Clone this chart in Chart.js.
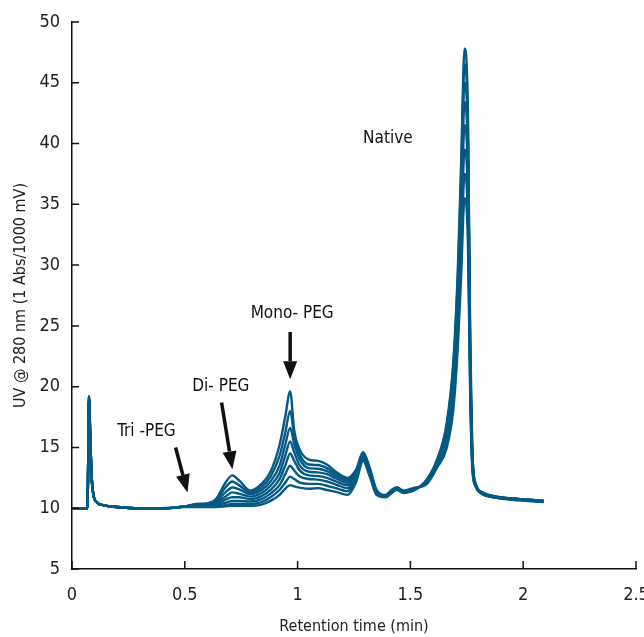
<!DOCTYPE html>
<html>
<head>
<meta charset="utf-8">
<script src="https://cdn.jsdelivr.net/npm/chart.js@4.4.1/dist/chart.umd.min.js"></script>
<style>
  html, body { margin: 0; padding: 0; background: #fff; }
  #wrap { width: 644px; height: 637px; }
</style>
</head>
<body>
<div id="wrap"><canvas id="chromChart" width="644" height="637"></canvas></div>
<script>
// Retention time grid (min), shared by every overlaid run
const times = [0, 0.068, 0.071, 0.075, 0.081, 0.087, 0.095, 0.11, 0.14, 0.2, 0.3, 0.4, 0.46, 0.5,
  0.55, 0.6, 0.64, 0.68, 0.71, 0.74, 0.79, 0.84, 0.88, 0.92, 0.945, 0.967, 0.985,
  1.01, 1.05, 1.09, 1.13, 1.17, 1.22, 1.26, 1.29, 1.32, 1.35, 1.39, 1.42, 1.44, 1.47, 1.52,
  1.57, 1.62, 1.66, 1.69, 1.71, 1.725, 1.74, 1.755, 1.765, 1.775,
  1.79, 1.82, 1.87, 1.95, 2.02, 2.09]

// UV traces (lowest Mono-PEG first)
const run1 = [10.0, 10.0, 12.5, 19.2, 15.8, 12.6, 11.1, 10.5, 10.25, 10.1, 10.0, 10.0, 10.05, 10.1,
  10.1, 10.1, 10.1, 10.15, 10.2, 10.2, 10.2, 10.3, 10.6, 11.1, 11.6, 11.9, 11.8,
  11.7, 11.6, 11.65, 11.5, 11.35, 11.1, 12.2, 13.9, 12.6, 11.1, 10.9, 11.3, 11.5, 11.25, 11.5,
  12.3, 14.1, 16.9, 22.0, 29.5, 38.5, 47.8, 42.5, 24.0, 14.5,
  12.0, 11.3, 11.0, 10.8, 10.7, 10.6]
const run2 = [10.0, 10.0, 12.5, 19.1, 15.7, 12.6, 11.1, 10.5, 10.25, 10.1, 10.0, 10.0, 10.05, 10.15,
  10.15, 10.15, 10.15, 10.25, 10.35, 10.35, 10.35, 10.5, 10.9, 11.5, 12.1, 12.6, 12.4,
  12.1, 12.0, 12.0, 11.85, 11.65, 11.4, 12.4, 14.0, 12.75, 11.2, 10.95, 11.35, 11.55, 11.3, 11.55,
  12.25, 14.0, 16.7, 21.6, 28.8, 37.5, 46.5, 41.4, 23.5, 14.4,
  11.95, 11.3, 11.0, 10.8, 10.7, 10.6]
const run3 = [10.0, 10.0, 12.5, 19.2, 15.8, 12.6, 11.1, 10.5, 10.25, 10.1, 10.0, 10.0, 10.05, 10.15,
  10.2, 10.2, 10.25, 10.45, 10.6, 10.6, 10.55, 10.75, 11.2, 11.9, 12.8, 13.5, 13.1,
  12.6, 12.4, 12.35, 12.2, 11.95, 11.65, 12.6, 14.1, 12.85, 11.25, 10.95, 11.4, 11.6, 11.3, 11.55,
  12.2, 13.9, 16.4, 21.1, 28.1, 36.4, 45.0, 40.1, 23.0, 14.2,
  11.9, 11.25, 10.95, 10.8, 10.7, 10.6]
const run4 = [10.0, 10.0, 12.5, 19.2, 15.8, 12.6, 11.1, 10.5, 10.25, 10.1, 10.0, 10.0, 10.05, 10.15,
  10.2, 10.25, 10.35, 10.7, 10.9, 10.9, 10.75, 11.0, 11.5, 12.4, 13.5, 14.5, 13.9,
  13.1, 12.7, 12.65, 12.5, 12.2, 11.9, 12.75, 14.2, 12.95, 11.3, 11.0, 11.4, 11.6, 11.35, 11.6,
  12.15, 13.8, 16.1, 20.6, 27.2, 35.2, 43.4, 38.7, 22.4, 14.0,
  11.9, 11.25, 10.95, 10.8, 10.7, 10.6]
const run5 = [10.0, 10.0, 12.5, 19.1, 15.7, 12.6, 11.1, 10.5, 10.25, 10.1, 10.0, 10.0, 10.05, 10.15,
  10.25, 10.3, 10.5, 10.95, 11.3, 11.2, 10.95, 11.25, 11.85, 12.9, 14.3, 15.5, 14.6,
  13.5, 13.0, 12.95, 12.8, 12.45, 12.1, 12.9, 14.3, 13.05, 11.35, 11.0, 11.45, 11.65, 11.35, 11.6,
  12.1, 13.7, 15.8, 20.0, 26.2, 33.7, 41.5, 37.1, 21.7, 13.8,
  11.85, 11.2, 10.95, 10.75, 10.65, 10.55]
const run6 = [10.0, 10.0, 12.5, 19.2, 15.8, 12.6, 11.1, 10.5, 10.25, 10.1, 10.0, 10.0, 10.05, 10.15,
  10.3, 10.35, 10.6, 11.3, 11.7, 11.55, 11.15, 11.5, 12.2, 13.5, 15.2, 16.6, 15.3,
  14.0, 13.3, 13.25, 13.05, 12.65, 12.25, 13.0, 14.4, 13.1, 11.4, 11.05, 11.5, 11.65, 11.4, 11.65,
  12.05, 13.6, 15.5, 19.4, 25.2, 32.2, 39.5, 35.4, 20.9, 13.6,
  11.8, 11.2, 10.9, 10.75, 10.65, 10.55]
const run7 = [10.0, 10.0, 12.5, 19.1, 15.7, 12.6, 11.1, 10.5, 10.25, 10.1, 10.0, 10.0, 10.05, 10.15,
  10.3, 10.4, 10.7, 11.7, 12.2, 11.9, 11.3, 11.75, 12.6, 14.3, 16.2, 18.0, 16.0,
  14.4, 13.6, 13.55, 13.3, 12.85, 12.4, 13.1, 14.5, 13.2, 11.45, 11.05, 11.5, 11.7, 11.4, 11.65,
  12.0, 13.5, 15.2, 18.7, 24.2, 30.7, 37.5, 33.7, 20.2, 13.3,
  11.8, 11.15, 10.9, 10.75, 10.65, 10.55]
const run8 = [10.0, 10.0, 12.5, 19.2, 15.8, 12.6, 11.1, 10.5, 10.25, 10.1, 10.0, 10.0, 10.05, 10.15,
  10.35, 10.4, 10.8, 12.1, 12.7, 12.3, 11.45, 12.0, 13.0, 15.2, 17.5, 19.6, 16.4,
  14.8, 14.0, 13.9, 13.6, 13.0, 12.5, 13.2, 14.6, 13.3, 11.5, 11.1, 11.55, 11.7, 11.45, 11.7,
  11.95, 13.4, 14.9, 18.1, 23.2, 29.2, 35.5, 31.9, 19.5, 13.1,
  11.75, 11.15, 10.9, 10.7, 10.6, 10.5]

const runs = [run1, run2, run3, run4, run5, run6, run7, run8]

// axis ticks
const xTicks = [0, 0.5, 1, 1.5, 2, 2.5]
const yTicks = [5, 10, 15, 20, 25, 30, 35, 40, 45, 50]

// peak labels: text, text anchor (x, y) and arrow from/to, in data units
const labels = [
  { text: "Native", x: 1.40, y: 40.4 },
  { text: "Mono- PEG", x: 0.976, y: 26.0, from: [0.967, 24.5], to: [0.967, 20.6] },
  { text: "Di- PEG", x: 0.66, y: 20.0, from: [0.663, 18.7], to: [0.711, 13.2] },
  { text: "Tri -PEG", x: 0.33, y: 16.3, from: [0.459, 15.0], to: [0.512, 11.3] }
]

const FONT = "'Liberation Sans Narrow', 'DejaVu Sans Condensed', 'Arial Narrow', sans-serif"
const LINE = "#045a83"

// tick marks point into the plot, so draw them ourselves
const insideTicks = {
  id: "insideTicks",
  afterDraw(chart) {
    const c = chart.ctx, x = chart.scales.x, y = chart.scales.y
    const a = chart.chartArea
    c.save()
    c.strokeStyle = "#111"
    c.lineWidth = 1.5
    c.beginPath()
    xTicks.forEach(v => {
      const px = x.getPixelForValue(v)
      c.moveTo(px, a.bottom); c.lineTo(px, a.bottom - 8)
    })
    yTicks.forEach(v => {
      const py = y.getPixelForValue(v)
      c.moveTo(a.left, py); c.lineTo(a.left + 7, py)
    })
    c.stroke()
    c.restore()
  }
}

const peakLabels = {
  id: "peakLabels",
  afterDatasetsDraw(chart) {
    const c = chart.ctx, x = chart.scales.x, y = chart.scales.y
    c.save()
    c.fillStyle = "#111"
    c.strokeStyle = "#111"
    c.font = "17px " + FONT
    c.textAlign = "center"
    c.textBaseline = "middle"
    labels.forEach(l => {
      c.fillText(l.text, x.getPixelForValue(l.x), y.getPixelForValue(l.y))
      if (!l.from) return
      const x1 = x.getPixelForValue(l.from[0]), y1 = y.getPixelForValue(l.from[1])
      const x2 = x.getPixelForValue(l.to[0]), y2 = y.getPixelForValue(l.to[1])
      const ang = Math.atan2(y2 - y1, x2 - x1)
      const head = 18, half = 7
      const bx = x2 - head * Math.cos(ang), by = y2 - head * Math.sin(ang)
      c.lineWidth = 3.5
      c.beginPath(); c.moveTo(x1, y1); c.lineTo(bx, by); c.stroke()
      c.beginPath()
      c.moveTo(x2, y2)
      c.lineTo(bx + half * Math.sin(ang), by - half * Math.cos(ang))
      c.lineTo(bx - half * Math.sin(ang), by + half * Math.cos(ang))
      c.closePath(); c.fill()
    })
    c.restore()
  }
}

new Chart(document.getElementById("chromChart"), {
  type: "line",
  data: {
    datasets: runs.map(r => ({
      data: times.map((t, i) => ({ x: t, y: r[i] })),
      borderColor: LINE,
      borderWidth: 2.4,
      pointRadius: 0,
      cubicInterpolationMode: "monotone",
      fill: false
    }))
  },
  options: {
    responsive: false,
    devicePixelRatio: 1,
    animation: false,
    layout: { padding: { left: 0, right: 8, top: 22, bottom: 0 } },
    plugins: { legend: { display: false }, tooltip: { enabled: false } },
    scales: {
      x: {
        type: "linear", min: 0, max: 2.5,
        afterBuildTicks: s => { s.ticks = xTicks.map(v => ({ value: v })) },
        afterFit: s => { s.height = 68; s.paddingLeft = 0; s.paddingRight = 0 },
        grid: { display: false, drawTicks: false },
        border: { display: true, color: "#111", width: 1.5 },
        ticks: { color: "#222", font: { family: FONT, size: 18 }, padding: 16, maxRotation: 0,
          callback: v => String(v) },
        title: { display: true, text: "Retention time (min)", color: "#222",
          font: { family: FONT, size: 16 }, padding: { top: 0, bottom: 1 } }
      },
      y: {
        min: 5, max: 50,
        afterBuildTicks: s => { s.ticks = yTicks.map(v => ({ value: v })) },
        afterFit: s => { s.width = 72; s.paddingTop = 0; s.paddingBottom = 0 },
        grid: { display: false, drawTicks: false },
        border: { display: true, color: "#111", width: 1.5 },
        ticks: { color: "#222", font: { family: FONT, size: 18 }, padding: 12,
          callback: v => String(v) },
        title: { display: true, text: "UV @ 280 nm (1 Abs/1000 mV)", color: "#222",
          font: { family: FONT, size: 16 }, padding: { top: 11, bottom: 0 } }
      }
    }
  },
  plugins: [insideTicks, peakLabels]
})
</script>
</body>
</html>
